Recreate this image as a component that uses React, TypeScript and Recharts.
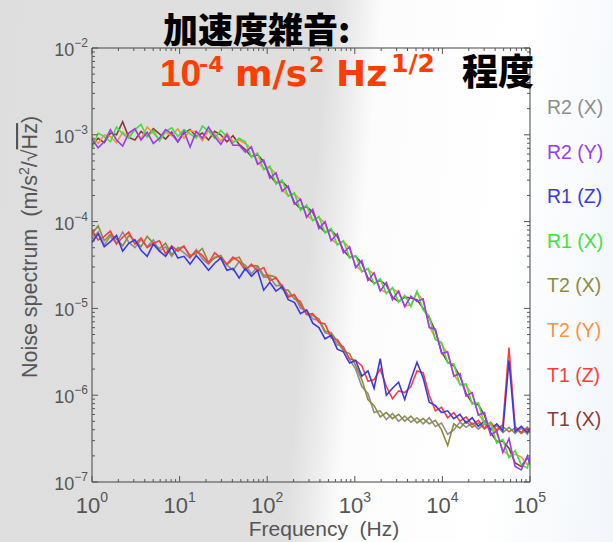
import React from "react";
import { LineChart, Line, XAxis, YAxis } from "recharts";

// Frequencies (Hz) of the sampled points
const freqHz = [1, 1.175, 1.38, 1.622, 1.905, 2.239, 2.63, 3.09, 3.631, 4.266, 5.012, 5.888, 6.918, 8.128, 9.55, 11.22, 13.18, 15.49, 18.2, 21.38, 25.12, 29.51, 34.67, 40.74, 47.86, 56.23, 66.07, 77.62, 91.2, 107.2, 125.9, 147.9, 173.8, 204.2, 239.9, 281.8, 331.1, 389, 457.1, 537, 631, 741.3, 871, 1023, 1202, 1413, 1660, 1950, 2291, 2692, 3162, 3715, 4365, 5129, 6026, 7079, 8318, 9772, 11482, 13490, 15849, 18621, 21878, 25704, 30200, 35481, 41687, 48978, 57544, 67608, 79433, 93325, 100000];

// Noise spectrum values, stored as log10 of m/s^2/sqrt(Hz)
const r2yLog = [-3.05, -3.15, -3.08, -2.94, -3.06, -3.13, -2.98, -2.93, -3.06, -2.97, -3.10, -3.04, -2.94, -2.99, -3.08, -2.96, -3.14, -2.96, -3.04, -2.91, -3.02, -3.11, -3.00, -3.12, -3.12,
  -3.20, -3.14, -3.34, -3.29, -3.50, -3.44, -3.65, -3.59, -3.80, -3.74, -3.95, -3.86, -4.08, -4.00, -4.22, -4.14, -4.36, -4.29, -4.53, -4.45, -4.68, -4.59, -4.80, -4.70, -4.90, -4.80, -4.98, -4.86, -4.92, -4.89, -5.22, -5.24, -5.52, -5.50, -5.78, -5.75, -6.01, -5.97, -6.23, -6.20, -6.46, -6.41, -6.66, -6.50, -6.82, -6.86, -6.70, -6.80];
const r1xLog = [-3.16, -2.98, -3.02, -3.08, -2.91, -2.99, -3.04, -2.94, -2.88, -3.03, -2.95, -3.07, -2.96, -2.92, -3.02, -2.94, -2.99, -3.04, -2.90, -2.96, -3.04, -2.95, -3.02, -3.09, -3.04,
  -3.08, -3.26, -3.21, -3.40, -3.36, -3.57, -3.52, -3.71, -3.67, -3.87, -3.81, -3.99, -3.94, -4.13, -4.08, -4.27, -4.22, -4.42, -4.39, -4.58, -4.54, -4.72, -4.66, -4.83, -4.76, -4.93, -4.85, -4.98, -4.80, -5.02, -5.09, -5.36, -5.39, -5.63, -5.64, -5.88, -5.87, -6.10, -6.09, -6.33, -6.32, -6.55, -6.51, -6.72, -6.64, -6.80, -6.84, -6.70];
const t2yLog = [-3.02, -3.10, -3.00, -3.02, -3.09, -2.97, -3.02, -2.94, -3.05, -2.91, -2.98, -3.06, -2.97, -3.01, -2.93, -3.04, -2.95, -2.97, -3.07, -2.95, -2.99, -3.07, -2.98, -3.08, -3.06,
  -3.10, -3.16, -3.31, -3.39, -3.38, -3.45, -3.63, -3.70, -3.68, -3.75, -3.93, -3.98, -3.95, -4.02, -4.20, -4.26, -4.23, -4.31, -4.51, -4.57, -4.55, -4.61, -4.78, -4.82, -4.77, -4.82, -4.97, -4.96, -4.82, -4.91, -5.20, -5.35, -5.41, -5.52, -5.76, -5.87, -5.89, -5.99, -6.21, -6.32, -6.34, -6.44, -6.63, -6.70, -6.68, -6.71, -6.80, -6.78];
const t1xLog = [-3.12, -3.04, -3.09, -2.98, -3.00, -2.85, -3.03, -3.06, -2.96, -3.02, -2.93, -2.99, -3.05, -2.97, -3.08, -2.98, -2.94, -3.02, -2.98, -3.06, -2.96, -3.00, -3.08, -3.01, -3.11,
  -3.17, -3.25, -3.23, -3.31, -3.47, -3.55, -3.54, -3.61, -3.78, -3.85, -3.83, -3.89, -4.05, -4.12, -4.10, -4.17, -4.33, -4.41, -4.40, -4.48, -4.65, -4.71, -4.68, -4.73, -4.87, -4.92, -4.87, -4.88, -4.90, -5.00, -5.11, -5.26, -5.50, -5.62, -5.66, -5.78, -5.98, -6.09, -6.11, -6.23, -6.43, -6.53, -6.53, -6.61, -6.78, -6.82, -6.72, -6.76];

const r1zLog = [-4.24, -4.14, -4.29, -4.23, -4.16, -4.34, -4.25, -4.21, -4.33, -4.40, -4.26, -4.34, -4.40, -4.29, -4.42, -4.40, -4.49, -4.39, -4.47, -4.56, -4.48, -4.42, -4.56, -4.54, -4.65, -4.54, -4.63, -4.56, -4.79, -4.70, -4.80, -4.75, -4.90, -4.93, -5.06, -5.02, -5.17, -5.22, -5.35, -5.31, -5.47, -5.50, -5.63, -5.60,
  -5.78, -5.72, -5.92, -5.58, -6.00, -5.92, -5.85, -6.05, -5.82, -5.62, -5.80, -6.08, -6.12, -6.20, -6.18, -6.27, -6.22, -6.32, -6.26, -6.36, -6.30, -6.39, -6.33, -6.41, -5.60, -6.42, -6.36, -6.43, -6.38];
const t1zLog = [-4.10, -4.21, -4.17, -4.11, -4.26, -4.18, -4.12, -4.26, -4.19, -4.30, -4.25, -4.22, -4.37, -4.28, -4.34, -4.28, -4.41, -4.34, -4.39, -4.48, -4.36, -4.42, -4.49, -4.41, -4.46, -4.56, -4.49, -4.57, -4.53, -4.68, -4.65, -4.74, -4.87, -4.84, -4.96, -5.07, -5.06, -5.16, -5.18, -5.34, -5.36, -5.46, -5.58, -5.60,
  -5.66, -5.84, -5.82, -5.70, -5.90, -6.04, -5.95, -5.97, -5.90, -5.72, -5.74, -6.00, -6.18, -6.14, -6.26, -6.20, -6.30, -6.25, -6.34, -6.29, -6.38, -6.31, -6.40, -6.34, -5.45, -6.36, -6.43, -6.37, -6.42];
const t2xLog = [-4.14, -4.05, -4.22, -4.15, -4.20, -4.28, -4.16, -4.22, -4.29, -4.17, -4.25, -4.31, -4.25, -4.38, -4.31, -4.29, -4.39, -4.37, -4.31, -4.47, -4.42, -4.39, -4.50, -4.43, -4.41, -4.54, -4.51, -4.51, -4.62, -4.62, -4.64, -4.78, -4.79, -4.89, -4.92, -5.07, -5.08, -5.12, -5.26, -5.28, -5.38, -5.49, -5.52, -5.66,
  -5.82, -6.05, -6.12, -6.25, -6.20, -6.27, -6.22, -6.30, -6.24, -6.32, -6.27, -6.33, -6.29, -6.40, -6.58, -6.33, -6.38, -6.30, -6.37, -6.32, -6.39, -6.34, -6.41, -6.36, -6.42, -6.38, -6.44, -6.39, -6.43];
const r2xLog = [-4.20, -4.12, -4.27, -4.17, -4.25, -4.12, -4.24, -4.30, -4.21, -4.29, -4.21, -4.34, -4.29, -4.40, -4.30, -4.36, -4.42, -4.32, -4.43, -4.49, -4.41, -4.40, -4.50, -4.56, -4.46, -4.50, -4.60, -4.52, -4.64, -4.64, -4.74, -4.73, -4.85, -4.85, -5.00, -5.02, -5.12, -5.14, -5.28, -5.30, -5.42, -5.44, -5.59, -5.70,
  -5.90, -5.98, -6.20, -6.18, -6.28, -6.21, -6.30, -6.24, -6.31, -6.26, -6.33, -6.26, -6.36, -6.32, -6.45, -6.40, -6.31, -6.37, -6.32, -6.39, -6.33, -6.41, -6.35, -6.43, -6.37, -6.44, -6.38, -6.45, -6.39];

const xTicks = [1, 2, 3, 4, 5, 6, 7, 8, 9, 10, 20, 30, 40, 50, 60, 70, 80, 90, 100, 200, 300, 400, 500, 600, 700, 800, 900, 1000, 2000, 3000, 4000, 5000, 6000, 7000, 8000, 9000, 10000, 20000, 30000, 40000, 50000, 60000, 70000, 80000, 90000, 100000];
const yTicks = [1e-7, 2e-7, 3e-7, 4e-7, 5e-7, 6e-7, 7e-7, 8e-7, 9e-7, 1e-6, 2e-6, 3e-6, 4e-6, 5e-6, 6e-6, 7e-6, 8e-6, 9e-6, 1e-5, 2e-5, 3e-5, 4e-5, 5e-5, 6e-5, 7e-5, 8e-5, 9e-5, 1e-4, 2e-4, 3e-4, 4e-4, 5e-4, 6e-4, 7e-4, 8e-4, 9e-4, 1e-3, 2e-3, 3e-3, 4e-3, 5e-3, 6e-3, 7e-3, 8e-3, 9e-3, 1e-2];

const legendNames = ["R2 (X)", "R2 (Y)", "R1 (Z)", "R1 (X)", "T2 (X)", "T2 (Y)", "T1 (Z)", "T1 (X)"];
const legendColors = ["#8e8e8e", "#9a3cf2", "#3a3ae4", "#3ee23e", "#8c8c3c", "#ff9040", "#ff3c3c", "#8c3838"];

// draw order: lower group first, purple on top
const seriesOrder = [
  { name: "R2 (X)", color: "#8e8e8e", logs: r2xLog },
  { name: "T2 (X)", color: "#8c8c3c", logs: t2xLog },
  { name: "T1 (Z)", color: "#ff3c3c", logs: t1zLog },
  { name: "R1 (Z)", color: "#3a3ae4", logs: r1zLog },
  { name: "T1 (X)", color: "#8c3838", logs: t1xLog },
  { name: "T2 (Y)", color: "#ff9040", logs: t2yLog },
  { name: "R1 (X)", color: "#3ee23e", logs: r1xLog },
  { name: "R2 (Y)", color: "#9a3cf2", logs: r2yLog },
];

const FONT = "'Liberation Sans', Arial, Helvetica, sans-serif";
const WIDE = "'DejaVu Sans', Verdana, sans-serif";
const TICK = "#555";
const LABEL = "#555";

const isMajor = (v: number) => {
  const lg = Math.log10(v);
  return Math.abs(lg - Math.round(lg)) < 1e-6;
};

const LeftTick = (p: any) => {
  const { x, y, payload } = p;
  const major = isMajor(payload.value);
  const e = Math.round(Math.log10(payload.value));
  return (
    <g>
      <line x1={x} y1={y} x2={x + (major ? 6 : 3)} y2={y} stroke={TICK} strokeWidth={1} />
      {major && (
        <text x={x - 4} y={y + 8} textAnchor="end" fontSize={18} fill={LABEL} fontFamily={FONT}>
          10
          <tspan dy={-9} fontSize={12}>{"\u2212" + Math.abs(e)}</tspan>
        </text>
      )}
    </g>
  );
};

const RightTick = (p: any) => {
  const { x, y, payload } = p;
  const major = isMajor(payload.value);
  return <line x1={x} y1={y} x2={x - (major ? 6 : 3)} y2={y} stroke={TICK} strokeWidth={1} />;
};

const BottomTick = (p: any) => {
  const { x, y, payload } = p;
  const major = isMajor(payload.value);
  const e = Math.round(Math.log10(payload.value));
  return (
    <g>
      <line x1={x} y1={y} x2={x} y2={y - (major ? 6 : 3)} stroke={TICK} strokeWidth={1} />
      {major && (
        <text x={x} y={y + 31} textAnchor="middle" fontSize={22} fill={LABEL} fontFamily={FONT}>
          10
          <tspan dy={-11} fontSize={14}>{String(e)}</tspan>
        </text>
      )}
    </g>
  );
};

const TopTick = (p: any) => {
  const { x, y, payload } = p;
  const major = isMajor(payload.value);
  return <line x1={x} y1={y} x2={x} y2={y + (major ? 6 : 3)} stroke={TICK} strokeWidth={1} />;
};

export default function App() {
  const W = 613;
  const H = 542;
  return (
    <div
      style={{
        position: "absolute",
        left: 0,
        top: 0,
        width: W,
        height: H,
        overflow: "hidden",
        background:
          "linear-gradient(95deg, #dedede 0%, #dfdfdf 50%, #ececec 54%, #fcfcfc 58%, #ffffff 80%, #f2f6fa 100%)",
      }}
    >
      <LineChart width={W} height={H} margin={{ top: 47, right: 82, bottom: 30, left: 32 }}>
        <XAxis
          dataKey="f"
          type="number"
          scale="log"
          domain={[1, 100000]}
          allowDataOverflow
          ticks={xTicks}
          interval={0}
          height={30}
          tickSize={0}
          tickMargin={0}
          tick={<BottomTick />}
          axisLine={{ stroke: "#444" }}
        />
        <XAxis
          xAxisId="top"
          orientation="top"
          dataKey="f"
          type="number"
          scale="log"
          domain={[1, 100000]}
          allowDataOverflow
          ticks={xTicks}
          interval={0}
          height={1}
          tickSize={0}
          tickMargin={0}
          tick={<TopTick />}
          axisLine={{ stroke: "#444" }}
        />
        <YAxis
          type="number"
          scale="log"
          domain={[1e-7, 1e-2]}
          allowDataOverflow
          ticks={yTicks}
          interval={0}
          width={60}
          tickSize={0}
          tickMargin={0}
          tick={<LeftTick />}
          axisLine={{ stroke: "#444" }}
        />
        <YAxis
          yAxisId="right"
          orientation="right"
          type="number"
          scale="log"
          domain={[1e-7, 1e-2]}
          allowDataOverflow
          ticks={yTicks}
          interval={0}
          width={1}
          tickSize={0}
          tickMargin={0}
          tick={<RightTick />}
          axisLine={{ stroke: "#444" }}
        />
        {seriesOrder.map((s) => (
          <Line
            key={s.name}
            name={s.name}
            data={s.logs.map((lv, i) => ({ f: freqHz[i], v: Math.pow(10, lv) }))}
            dataKey="v"
            type="linear"
            stroke={s.color}
            strokeWidth={1.6}
            dot={false}
            isAnimationActive={false}
          />
        ))}
      </LineChart>
      <svg
        width={W}
        height={H}
        style={{ position: "absolute", left: 0, top: 0, pointerEvents: "none" }}
      >
        {/* title */}
        <text x={163} y={43} fontSize={35} fontWeight={900} fill="#000" fontFamily="'Noto Sans CJK JP', sans-serif">
          加速度雑音:
        </text>
        <g fill="#ff3d00" fontWeight={700}>
          <text x={160} y={86} fontSize={37} fontFamily={FONT}>10</text>
          <text x={199} y={72} fontSize={22} fontFamily={WIDE}>-4</text>
          <text x={235} y={86} fontSize={36} fontFamily={WIDE}>m/s</text>
          <text x={309} y={72} fontSize={22} fontFamily={WIDE}>2</text>
          <text x={336} y={86} fontSize={36} fontFamily={WIDE}>Hz</text>
          <text x={391} y={72} fontSize={25} fontFamily={WIDE}>1/2</text>
        </g>
        <text x={462} y={85} fontSize={36} fontWeight={900} fill="#000" fontFamily="'Noto Sans CJK JP', sans-serif">
          程度
        </text>
        {/* legend */}
        {legendNames.map((n, i) => (
          <text key={n} x={547} y={114 + i * 44.6} fontSize={19.5} fill={legendColors[i]} fontFamily={FONT}>
            {n}
          </text>
        ))}
        {/* axis titles */}
        <text x={324} y={536} textAnchor="middle" fontSize={21} fill={LABEL} fontFamily={FONT}>
          {"Frequency\u00A0 (Hz)"}
        </text>
        <text
          transform="translate(37,247) rotate(-90)"
          textAnchor="middle"
          fontSize={21.5}
          fill={LABEL}
          fontFamily={FONT}
        >
          {"Noise spectrum\u00A0 (m/s"}
          <tspan dy={-8} fontSize={14}>2</tspan>
          <tspan dy={8}>/</tspan>
          <tspan>√</tspan>
          <tspan textDecoration="overline">Hz</tspan>
          <tspan>)</tspan>
        </text>
      </svg>
    </div>
  );
}
